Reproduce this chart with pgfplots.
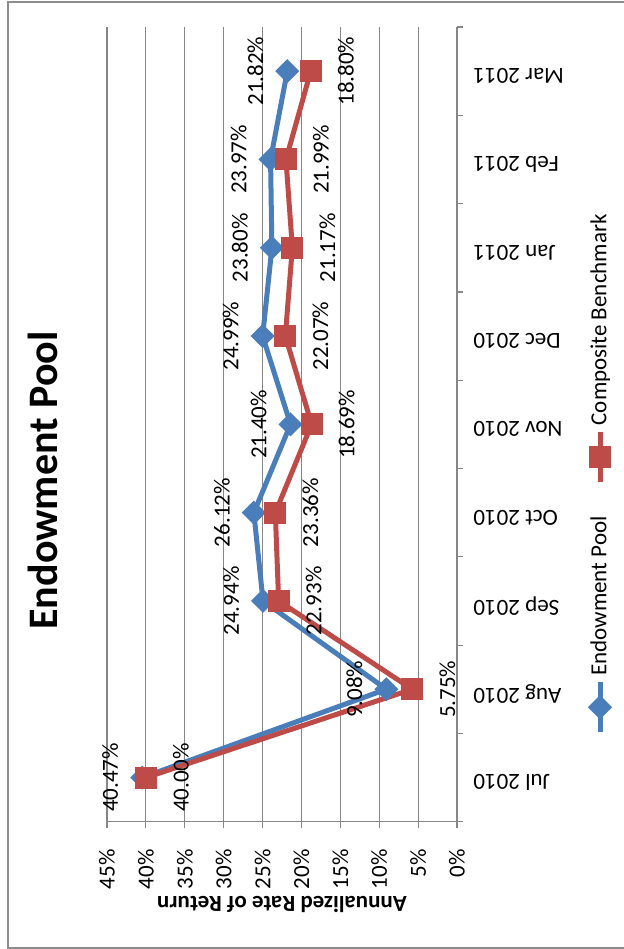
\documentclass[border=0pt]{standalone}
\usepackage{pgfplots}
\pgfplotsset{compat=1.18}
\usepackage{fontspec}
\setmainfont{Carlito}
\usepackage{graphicx}
\definecolor{epblue}{HTML}{4A7EBB}
\definecolor{cbred}{HTML}{BE4B48}
\definecolor{gridgray}{HTML}{868686}
\definecolor{framegray}{HTML}{8C8C8C}
\newcommand\lbl{\fontsize{11.5}{13}\selectfont}

\begin{document}
\rotatebox{90}{%
\begin{tikzpicture}
\begin{axis}[
  scale only axis, width=397.35pt, height=175pt,
  at={(63.65pt,83.5pt)}, anchor=south west,
  xmin=-0.5, xmax=8.5, ymin=0, ymax=45,
  clip=false,
  axis lines=left,
  axis line style={-, draw=gridgray, line width=0.6pt},
  tick align=outside, major tick length=3pt,
  tick style={draw=gridgray, line width=0.6pt},
  xtick={-0.5,0.5,...,8.5}, xticklabels={},
  extra x ticks={0,1,...,8},
  extra x tick labels={Jul 2010,Aug 2010,Sep 2010,Oct 2010,Nov 2010,Dec 2010,Jan 2011,Feb 2011,Mar 2011},
  extra x tick style={major tick length=0pt,
    xticklabel style={font=\lbl, inner sep=0pt, xshift=-2.5pt, yshift=-8pt, rotate=90, anchor=east}},
  ytick={0,5,...,45},
  yticklabels={0\%,5\%,10\%,15\%,20\%,25\%,30\%,35\%,40\%,45\%},
  yticklabel style={font=\lbl, inner sep=0pt, anchor=east, xshift=-10.65pt},
  ymajorgrids, grid style={draw=gridgray, line width=0.6pt},
  ylabel={Annualized Rate of Return},
  every axis y label/.style={at={(-0.1036,0.5)}, rotate=90, anchor=center, font=\lbl\bfseries},
  title={Endowment Pool},
  title style={at={(0.4293,1.1486)}, anchor=center, font=\fontsize{21}{25}\selectfont\bfseries},
  legend columns=2,
  legend style={at={(0.4394,-0.4086)}, anchor=center, draw=none, fill=none, font=\lbl,
    /tikz/every even column/.append style={column sep=14pt}},
  legend image code/.code={\draw[mark repeat=2,mark phase=2,#1] plot coordinates {(0pt,0pt) (12.5pt,0pt) (25pt,0pt)};},
  point meta=explicit symbolic,
  nodes near coords,
]
\addplot[epblue, line width=2.5pt, mark=square*, mark size=3pt,
  mark options={rotate=45, solid, fill=epblue},
  every node near coord/.append style={font=\lbl, text=black, anchor=center, inner sep=0pt, yshift=16pt}]
  coordinates {
  (0,40.47) [40.47\%]
  (1,9.08)  [9.08\%]
  (2,24.94) [24.94\%]
  (3,26.12) [26.12\%]
  (4,21.40) [21.40\%]
  (5,24.99) [24.99\%]
  (6,23.80) [23.80\%]
  (7,23.97) [23.97\%]
  (8,21.82) [21.82\%]
  };
\addlegendentry{Endowment Pool}
\addplot[cbred, line width=2.5pt, mark=square*, mark size=4.25pt,
  mark options={solid, fill=cbred},
  every node near coord/.append style={font=\lbl, text=black, anchor=center, inner sep=0pt, yshift=-17.5pt}]
  coordinates {
  (0,40.00) [40.00\%]
  (1,5.75)  [5.75\%]
  (2,22.93) [22.93\%]
  (3,23.36) [23.36\%]
  (4,18.69) [18.69\%]
  (5,22.07) [22.07\%]
  (6,21.17) [21.17\%]
  (7,21.99) [21.99\%]
  (8,18.80) [18.80\%]
  };
\addlegendentry{Composite Benchmark}
\end{axis}
\draw[framegray, line width=0.75pt] (0.5pt,-2pt) -- (0.5pt,308pt) -- (473.5pt,308pt) -- (473.5pt,-2pt);
\pgfresetboundingbox
\path (0pt,0pt) rectangle (474.5pt,312pt);
\end{tikzpicture}}
\end{document}
